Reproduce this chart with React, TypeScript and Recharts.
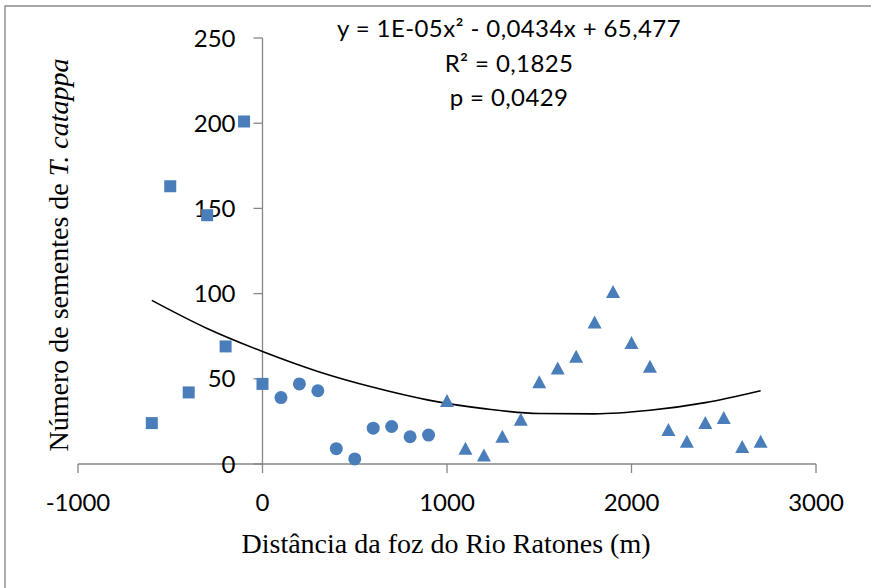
import React from "react";
import {
  ComposedChart,
  Scatter,
  Line,
  XAxis,
  YAxis,
  ReferenceLine,
  ReferenceDot,
} from "recharts";

// distância (m) e número de sementes, por trecho
const squareX = [-600, -500, -400, -300, -200, -100, 0];
const squareY = [24, 163, 42, 146, 69, 201, 47];

const circleX = [100, 200, 300, 400, 500, 600, 700, 800, 900];
const circleY = [39, 47, 43, 9, 3, 21, 22, 16, 17];

const triangleX = [1000, 1100, 1200, 1300, 1400, 1500, 1600, 1700, 1800, 1900, 2000, 2100, 2200, 2300, 2400, 2500, 2600, 2700];
const triangleY = [37, 9, 5, 16, 26, 48, 56, 63, 83, 101, 71, 57, 20, 13, 24, 27, 10, 13];

// curva de tendência
const trendX = [-600, -300, 0, 300, 600, 900, 1200, 1500, 1800, 2100, 2400, 2700];
const trendY = [96, 79.5, 66, 54.3, 45, 37.5, 32.5, 29.6, 29.4, 31.5, 36, 43];

const xTicks = [-1000, 0, 1000, 2000, 3000];
const yTicks = [0, 50, 100, 150, 200, 250];

const toRows = (xs: number[], ys: number[]) => xs.map((x, i) => ({ x, y: ys[i] }));

const squares = toRows(squareX, squareY);
const circles = toRows(circleX, circleY);
const triangles = toRows(triangleX, triangleY);
const trend = toRows(trendX, trendY);

const BLUE = "#4a7ebb";
const AXIS = "#868686";
const SANS = "Lato, 'Open Sans', sans-serif";
const SERIF = "'Liberation Serif', 'Times New Roman', serif";

const Square = (p: any) => (
  <rect x={p.cx - 6} y={p.cy - 6} width={12} height={12} fill={BLUE} />
);
const Circle = (p: any) => <circle cx={p.cx} cy={p.cy} r={6.5} fill={BLUE} />;
const Triangle = (p: any) => (
  <polygon
    points={`${p.cx},${p.cy - 7} ${p.cx + 7},${p.cy + 6} ${p.cx - 7},${p.cy + 6}`}
    fill={BLUE}
  />
);

const yTickShape = (v: number) => (p: any) => (
  <g>
    <line x1={p.cx - 9} x2={p.cx} y1={p.cy} y2={p.cy} stroke={AXIS} strokeWidth={1.3} />
    <text x={p.cx - 27} y={p.cy + 8.5} textAnchor="end" fontSize={24} fontFamily={SANS} fill="#000">
      {v}
    </text>
  </g>
);

export default function App() {
  return (
    <div style={{ position: "absolute", left: 0, top: 0, width: 871, height: 588, background: "#fff" }}>
      <ComposedChart
        width={871}
        height={588}
        margin={{ top: 38, right: 55, left: 78, bottom: 64 }}
      >
        <XAxis
          type="number"
          dataKey="x"
          domain={[-1000, 3000]}
          ticks={xTicks}
          allowDataOverflow
          height={60}
          tickSize={9}
          tickMargin={21}
          stroke={AXIS}
          strokeWidth={1.3}
          tick={{ fill: "#000", fontSize: 24, fontFamily: SANS }}
        />
        <YAxis type="number" dataKey="y" domain={[0, 250]} ticks={yTicks} hide />
        <ReferenceLine x={0} stroke={AXIS} strokeWidth={1.3} />
        {yTicks.map((v) => (
          <ReferenceDot key={v} x={0} y={v} shape={yTickShape(v)} />
        ))}
        <Line
          data={trend}
          dataKey="y"
          type="monotone"
          stroke="#000"
          strokeWidth={1.6}
          dot={false}
          activeDot={false}
          isAnimationActive={false}
        />
        <Scatter data={squares} dataKey="y" shape={Square} isAnimationActive={false} />
        <Scatter data={circles} dataKey="y" shape={Circle} isAnimationActive={false} />
        <Scatter data={triangles} dataKey="y" shape={Triangle} isAnimationActive={false} />
      </ComposedChart>
      <svg
        width={871}
        height={588}
        style={{ position: "absolute", left: 0, top: 0, pointerEvents: "none" }}
      >
        <path d="M5 600 V6 H880" fill="none" stroke="#8a8a8a" strokeWidth={1.4} />
        <g fontFamily={SANS} fontSize={24} letterSpacing={0.4} textAnchor="middle" fill="#000">
          <text x={509} y={37}>y = 1E-05x² - 0,0434x + 65,477</text>
          <text x={509} y={72}>R² = 0,1825</text>
          <text x={509} y={106}>p = 0,0429</text>
        </g>
        <text x={446} y={553} textAnchor="middle" fontFamily={SERIF} fontSize={28} fill="#000">
          Distância da foz do Rio Ratones (m)
        </text>
        <text
          transform="translate(68,255) rotate(-90)"
          textAnchor="middle"
          fontFamily={SERIF}
          fontSize={28}
          fill="#000"
        >
          Número de sementes de <tspan fontStyle="italic">T. catappa</tspan>
        </text>
      </svg>
    </div>
  );
}
